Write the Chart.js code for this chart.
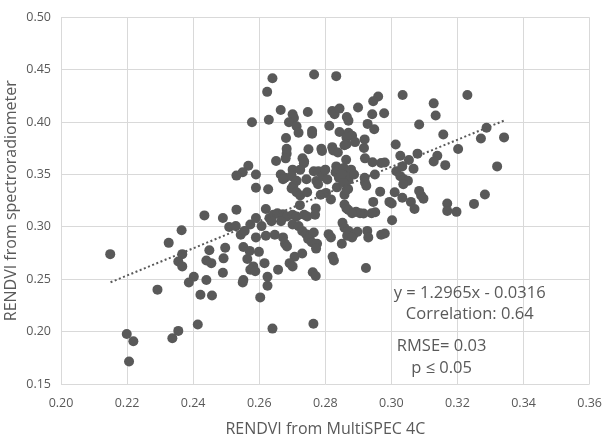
<!DOCTYPE html>
<html>
<head>
<meta charset="utf-8">
<script src="https://cdn.jsdelivr.net/npm/chart.js@4/dist/chart.umd.min.js"></script>
<style>
html,body{margin:0;padding:0;background:#fff;}
#wrap{width:614px;height:435px;}
</style>
</head>
<body>
<div id="wrap"><canvas id="c" width="614" height="435"></canvas></div>
<script>
// RENDVI from MultiSPEC 4C (x) vs RENDVI from spectroradiometer (y)
const multispecX = [
0.264,0.2624,0.2766,0.2833,0.3034,0.323,0.296,0.2945,0.3128,0.3134,
0.2899,0.2665,0.2629,0.2578,0.2701,0.2705,0.269,0.2747,0.2821,0.2828,
0.2843,0.2865,0.287,0.2942,0.2978,0.2928,0.2812,0.2713,0.2719,0.276,
0.276,0.2681,0.2843,0.287,0.2881,0.2864,0.2948,0.3084,0.3157,0.3288,
0.3271,0.3341,0.2919,0.289,0.2864,0.2858,0.3013,0.3202,0.2821,0.2824,
0.2788,0.279,0.2749,0.2838,0.2683,0.2683,0.268,0.2917,0.3079,0.3027,
0.3139,0.3128,0.292,0.2651,0.2731,0.2736,0.2863,0.298,0.2943,0.2969,
0.3053,0.3163,0.332,0.2567,0.255,0.2531,0.259,0.259,0.2627,0.2665,
0.2678,0.2672,0.2701,0.2698,0.2735,0.2724,0.2743,0.2713,0.2703,0.2698,
0.2713,0.2724,0.2723,0.2745,0.2765,0.2779,0.2773,0.2778,0.2792,0.28,
0.2806,0.2786,0.2802,0.2833,0.2831,0.2841,0.2856,0.2866,0.2878,0.2841,
0.2859,0.287,0.2835,0.2855,0.2887,0.285,0.2869,0.2919,0.292,0.2924,
0.295,0.2966,0.2945,0.3015,0.3027,0.3038,0.305,0.3033,0.3067,0.3036,
0.301,0.3084,0.309,0.3097,0.2994,0.3001,0.3033,0.3059,0.307,0.3169,
0.3169,0.3197,0.325,0.3283,0.3002,0.2951,0.294,0.2916,0.2905,0.2893,
0.2858,0.2864,0.287,0.2881,0.2817,0.2858,0.2864,0.2927,0.293,0.2969,
0.298,0.2852,0.2858,0.287,0.2885,0.2897,0.2866,0.2881,0.285,0.281,
0.2817,0.2822,0.2826,0.2923,0.2764,0.264,0.2603,0.2625,0.2625,0.2657,
0.2616,0.2582,0.2573,0.2588,0.2599,0.2564,0.2552,0.2571,0.255,0.2552,
0.262,0.259,0.2544,0.2556,0.2573,0.259,0.2607,0.262,0.2531,0.2509,
0.2529,0.249,0.2434,0.2497,0.2492,0.249,0.2449,0.2455,0.244,0.244,
0.2402,0.2387,0.2422,0.2457,0.2365,0.2367,0.2355,0.2367,0.2326,0.2292,
0.2414,0.2355,0.2337,0.2199,0.2219,0.2206,0.2149,0.2631,0.2643,0.2655,
0.2672,0.2684,0.2701,0.2713,0.2637,0.2666,0.2701,0.2719,0.2736,0.2745,
0.273,0.2742,0.2753,0.2765,0.2748,0.2759,0.2771,0.2769,0.2775,0.2772,
0.2672,0.2678,0.2684,0.2647,0.2707,0.2692,0.2701,0.273,0.2762,0.2771
];
const spectroY = [
0.442,0.429,0.4455,0.444,0.426,0.426,0.4245,0.420,0.418,0.4064,
0.414,0.4116,0.4024,0.400,0.4076,0.404,0.400,0.4098,0.4107,0.4076,
0.413,0.4049,0.4015,0.4076,0.4085,0.3984,0.3966,0.3962,0.390,0.3916,
0.389,0.3849,0.3907,0.390,0.387,0.3855,0.3932,0.3978,0.3882,0.3947,
0.3845,0.3855,0.3836,0.381,0.379,0.378,0.3787,0.3744,0.3762,0.3731,
0.3747,0.3725,0.3741,0.371,0.3747,0.370,0.3655,0.3753,0.370,0.3679,
0.3679,0.3624,0.3655,0.363,0.3655,0.3624,0.3642,0.3615,0.3618,0.361,
0.3639,0.359,0.3578,0.3584,0.3522,0.349,0.350,0.3374,0.3359,0.350,
0.347,0.3455,0.3547,0.3485,0.3609,0.3547,0.3455,0.344,0.3393,0.3368,
0.3331,0.330,0.3208,0.3331,0.3531,0.3531,0.3439,0.3408,0.3485,0.3547,
0.3454,0.3307,0.3325,0.3578,0.3522,0.3547,0.3562,0.3525,0.3547,0.347,
0.3485,0.3448,0.3378,0.3424,0.350,0.3505,0.3362,0.347,0.3424,0.3393,
0.350,0.3337,0.3239,0.3531,0.3485,0.3455,0.344,0.3578,0.3556,0.3408,
0.3331,0.3344,0.330,0.327,0.3239,0.3223,0.3279,0.3239,0.3171,0.3223,
0.3153,0.3144,0.322,0.331,0.3063,0.314,0.3131,0.3128,0.3131,0.3146,
0.3214,0.3177,0.3162,0.3131,0.3263,0.3307,0.3353,0.2962,0.290,0.2925,
0.2937,0.3039,0.2993,0.2962,0.2925,0.2953,0.2916,0.290,0.2839,0.2931,
0.290,0.2716,0.2679,0.2608,0.2075,0.2029,0.2327,0.2438,0.2525,0.2592,
0.2654,0.2623,0.2592,0.2577,0.2762,0.2694,0.2808,0.2771,0.2469,0.2494,
0.2916,0.290,0.2925,0.2962,0.3023,0.3085,0.3008,0.3171,0.3165,0.2999,
0.3008,0.3085,0.311,0.2802,0.270,0.2562,0.2777,0.2654,0.2679,0.2494,
0.2525,0.2469,0.2352,0.2346,0.2968,0.274,0.2669,0.2623,0.2848,0.2401,
0.2069,0.2007,0.1937,0.1977,0.1909,0.1715,0.274,0.3085,0.3116,0.3131,
0.3122,0.310,0.3116,0.310,0.3054,0.3054,0.3023,0.3008,0.3116,0.310,
0.2962,0.2931,0.2916,0.2946,0.2885,0.2854,0.3177,0.3116,0.2839,0.2793,
0.290,0.2839,0.2814,0.2925,0.2716,0.2654,0.2623,0.2747,0.2568,0.2531
];
const xTickValues = [0.20,0.22,0.24,0.26,0.28,0.30,0.32,0.34,0.36];
const yTickValues = [0.15,0.20,0.25,0.30,0.35,0.40,0.45,0.50];
const trendSlope = 1.2965;
const trendIntercept = -0.0316;
const trendXRange = [0.215, 0.334];
const equationLines = ["y = 1.2965x - 0.0316", "Correlation: 0.64"];
const statsLines = ["RMSE= 0.03", "p \u2264 0.05"];
const xTitle = "RENDVI from MultiSPEC 4C";
const yTitle = "RENDVI from spectroradiometer";

const points = multispecX.map((x, i) => ({x: x, y: spectroY[i]}));
const trendPoints = trendXRange.map(x => ({x: x, y: trendSlope * x + trendIntercept}));

const GREY = '#595959';
const FONT = "'Open Sans', 'Noto Sans', sans-serif";

const annotationPlugin = {
  id: 'statsText',
  afterDatasetsDraw(chart) {
    const ctx = chart.ctx;
    const xs = chart.scales.x, ys = chart.scales.y;
    ctx.save();
    ctx.fillStyle = GREY;
    ctx.font = "16.5px " + FONT;
    ctx.textAlign = 'center';
    ctx.textBaseline = 'middle';
    const cx1 = xs.getPixelForValue(0.3237);
    ctx.fillText(equationLines[0], cx1, ys.getPixelForValue(0.2368));
    ctx.fillText(equationLines[1], cx1, ys.getPixelForValue(0.2165));
    const cx2 = xs.getPixelForValue(0.3152);
    ctx.fillText(statsLines[0], cx2, ys.getPixelForValue(0.1860));
    ctx.fillText(statsLines[1], cx2, ys.getPixelForValue(0.1648));
    ctx.restore();
  }
};

new Chart(document.getElementById('c'), {
  type: 'scatter',
  data: {
    datasets: [
      {
        data: points,
        backgroundColor: GREY,
        borderColor: GREY,
        borderWidth: 0,
        pointRadius: 5,
        pointHoverRadius: 5,
        order: 2
      },
      {
        type: 'line',
        data: trendPoints,
        borderColor: GREY,
        borderWidth: 2,
        borderDash: [2, 2.5],
        pointRadius: 0,
        fill: false,
        order: 1
      }
    ]
  },
  options: {
    responsive: false,
    animation: false,
    events: [],
    layout: {padding: {top: 5, right: 14, left: 0, bottom: 0}},
    plugins: {legend: {display: false}, tooltip: {enabled: false}},
    scales: {
      x: {
        type: 'linear',
        min: 0.20, max: 0.36,
        afterBuildTicks: s => { s.ticks = xTickValues.map(v => ({value: v})); },
        afterFit: s => { s.height = 51; },
        grid: {color: '#d9d9d9', lineWidth: 1, drawTicks: false},
        border: {display: false},
        ticks: {color: GREY, font: {family: FONT, size: 12.5}, padding: 12,
          callback: v => v.toFixed(2), maxRotation: 0, autoSkip: false},
        title: {display: true, text: xTitle, color: GREY,
          font: {family: FONT, size: 16}, padding: {top: 0, bottom: -4}}
      },
      y: {
        type: 'linear',
        min: 0.15, max: 0.50,
        afterBuildTicks: s => { s.ticks = yTickValues.map(v => ({value: v})); },
        afterFit: s => { s.width = 61; },
        grid: {color: '#d9d9d9', lineWidth: 1, drawTicks: false},
        border: {display: false},
        ticks: {color: GREY, font: {family: FONT, size: 12.5}, padding: 10,
          callback: v => v.toFixed(2), autoSkip: false},
        title: {display: true, text: yTitle, color: GREY,
          font: {family: FONT, size: 16}, padding: {top: 2, bottom: 0}}
      }
    }
  },
  plugins: [annotationPlugin]
});
</script>
</body>
</html>
